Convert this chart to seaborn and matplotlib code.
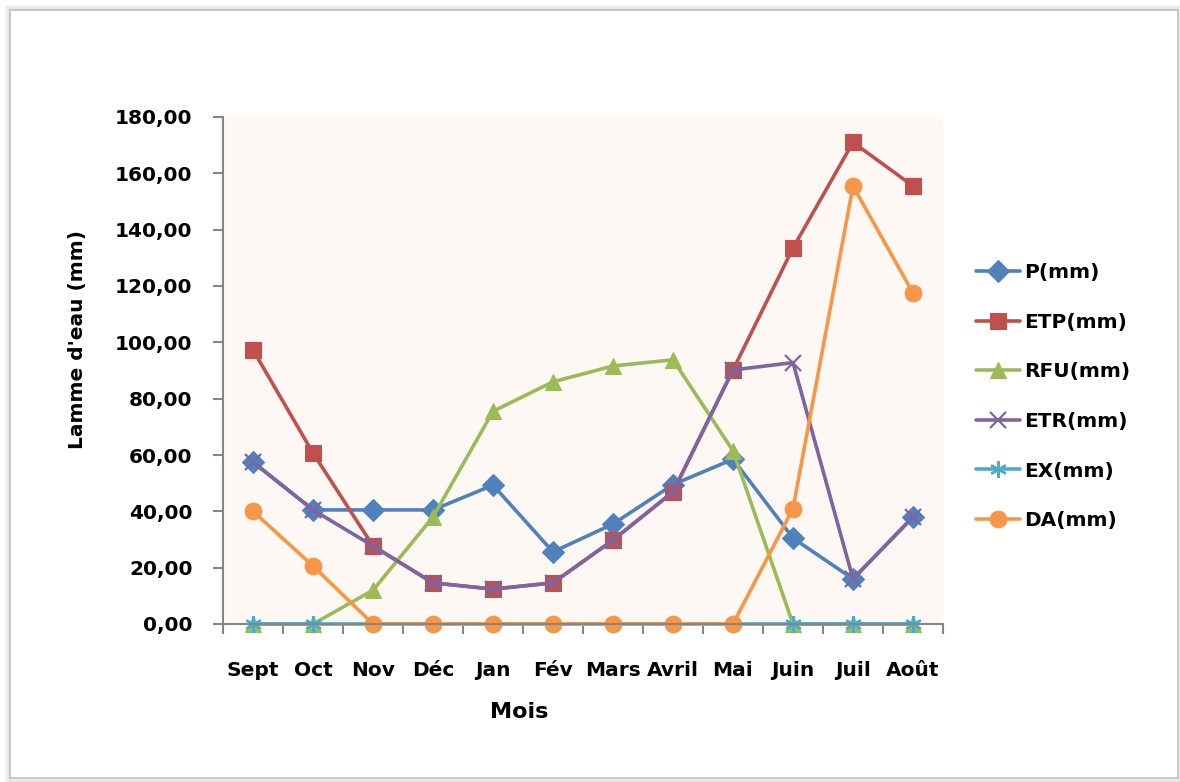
import matplotlib
matplotlib.use("Agg")
import matplotlib.pyplot as plt
import matplotlib.patches as mpatches
from matplotlib.ticker import FixedLocator, FuncFormatter
import seaborn as sns

# Monthly water balance (mm)
mois = ["Sept", "Oct", "Nov", "Déc", "Jan", "Fév", "Mars", "Avril", "Mai", "Juin", "Juil", "Août"]
p_mm   = [57.5, 40.5, 40.5, 40.5, 49.3, 25.6, 35.5, 49.5, 58.5, 30.5, 16.0, 38.0]
etp_mm = [97.3, 60.7, 27.7, 14.6, 12.4, 14.6, 29.8, 46.9, 90.2, 133.5, 171.0, 155.5]
rfu_mm = [0.0, 0.0, 12.0, 38.0, 75.5, 86.0, 91.6, 93.8, 61.5, 0.0, 0.0, 0.0]
etr_mm = [57.5, 40.5, 27.7, 14.6, 12.4, 14.6, 29.8, 46.9, 90.2, 92.8, 16.0, 38.0]
ex_mm  = [0.0] * 12
da_mm  = [40.0, 20.6, 0.0, 0.0, 0.0, 0.0, 0.0, 0.0, 0.0, 41.0, 155.5, 117.5]

series = [
    ("P(mm)",   p_mm,   "#4F81BD", "D",       11),
    ("ETP(mm)", etp_mm, "#C0504D", "s",       12),
    ("RFU(mm)", rfu_mm, "#9BBB59", "^",       12),
    ("ETR(mm)", etr_mm, "#8064A2", "x",       11),
    ("EX(mm)",  ex_mm,  "#4BACC6", (6, 2, 0), 12),
    ("DA(mm)",  da_mm,  "#F79646", "o",       12),
]

sns.set_theme(style="white")
plt.rcParams["font.family"] = ["DejaVu Sans"]
plt.rcParams["font.weight"] = "bold"

W, H, DPI = 1180, 782, 100
fig = plt.figure(figsize=(W / DPI, H / DPI), dpi=DPI)
fig.patch.set_facecolor("white")

# Chart frame with a soft shadow
for i, a in enumerate([0.05, 0.08, 0.12]):
    off = (3 - i) * 1.5
    fig.patches.append(mpatches.Rectangle(
        ((10 - off) / W, (4 - off) / H), (1168 + 2 * off) / W, (768 + 2 * off) / H,
        transform=fig.transFigure, facecolor="none",
        edgecolor=(0.5, 0.5, 0.5, a), linewidth=2.5, zorder=0))
fig.patches.append(mpatches.Rectangle(
    (10 / W, 4 / H), 1168 / W, 768 / H, transform=fig.transFigure,
    facecolor="white", edgecolor="#BDBDBD", linewidth=1.2, zorder=0))

left, right, top, bottom = 223, 943, 117, 624
ax = fig.add_axes([left / W, 1 - bottom / H, (right - left) / W, (bottom - top) / H])
ax.set_zorder(2)
ax.set_facecolor("#FEF8F4")

for label, vals, color, marker, ms in series:
    sns.lineplot(x=mois, y=vals, ax=ax, sort=False, color=color, linewidth=2.6,
                 marker=marker, markersize=ms, markeredgecolor=color,
                 markeredgewidth=1.6 if marker in ("x", (6, 2, 0)) else 0.8,
                 label=label, clip_on=False)

ax.set_xlim(-0.5, 11.5)
ax.set_ylim(0, 180)
ax.set_yticks(range(0, 181, 20))
ax.yaxis.set_major_formatter(FuncFormatter(lambda v, _: f"{v:.2f}".replace(".", ",")))

ax.set_xticks(range(len(mois)))
ax.set_xticklabels(mois)
ax.xaxis.set_minor_locator(FixedLocator([i - 0.5 for i in range(len(mois) + 1)]))
ax.tick_params(axis="x", which="major", length=0, pad=27, labelsize=14.5, labelcolor="black")
ax.tick_params(axis="x", which="minor", length=7, width=1.5, color="#868686", direction="out")
ax.tick_params(axis="y", which="major", length=7, width=1.5, color="#868686",
               direction="out", pad=15, labelsize=14.5, labelcolor="black")
ax.tick_params(axis="x", which="minor", bottom=True)
ax.tick_params(axis="y", left=True)

for s in ("top", "right"):
    ax.spines[s].set_visible(False)
for s in ("left", "bottom"):
    ax.spines[s].set_color("#868686")
    ax.spines[s].set_linewidth(1.5)

for t in ax.get_xticklabels() + ax.get_yticklabels():
    t.set_fontweight("bold")

ax.set_xlabel("")
ax.set_ylabel("")
fig.text(519 / W, 1 - 712 / H, "Mois", ha="center", va="center",
         fontsize=16, fontweight="bold", color="black", zorder=3)
fig.text(77 / W, 1 - 340 / H, "Lamme d'eau (mm)", ha="center", va="center",
         rotation=90, fontsize=14.5, fontweight="bold", color="black", zorder=3)

handles, labels = ax.get_legend_handles_labels()
ax.get_legend().remove()
leg = fig.legend(handles, labels, loc="upper left",
                 bbox_to_anchor=(968 / W, 1 - 255 / H), frameon=False,
                 fontsize=14.5, handlelength=2.2, handletextpad=0.2,
                 labelspacing=1.52, borderaxespad=0)
leg.set_zorder(3)
for t in leg.get_texts():
    t.set_fontweight("bold")
    t.set_color("black")

fig.savefig("out.png", dpi=DPI, facecolor="white")
